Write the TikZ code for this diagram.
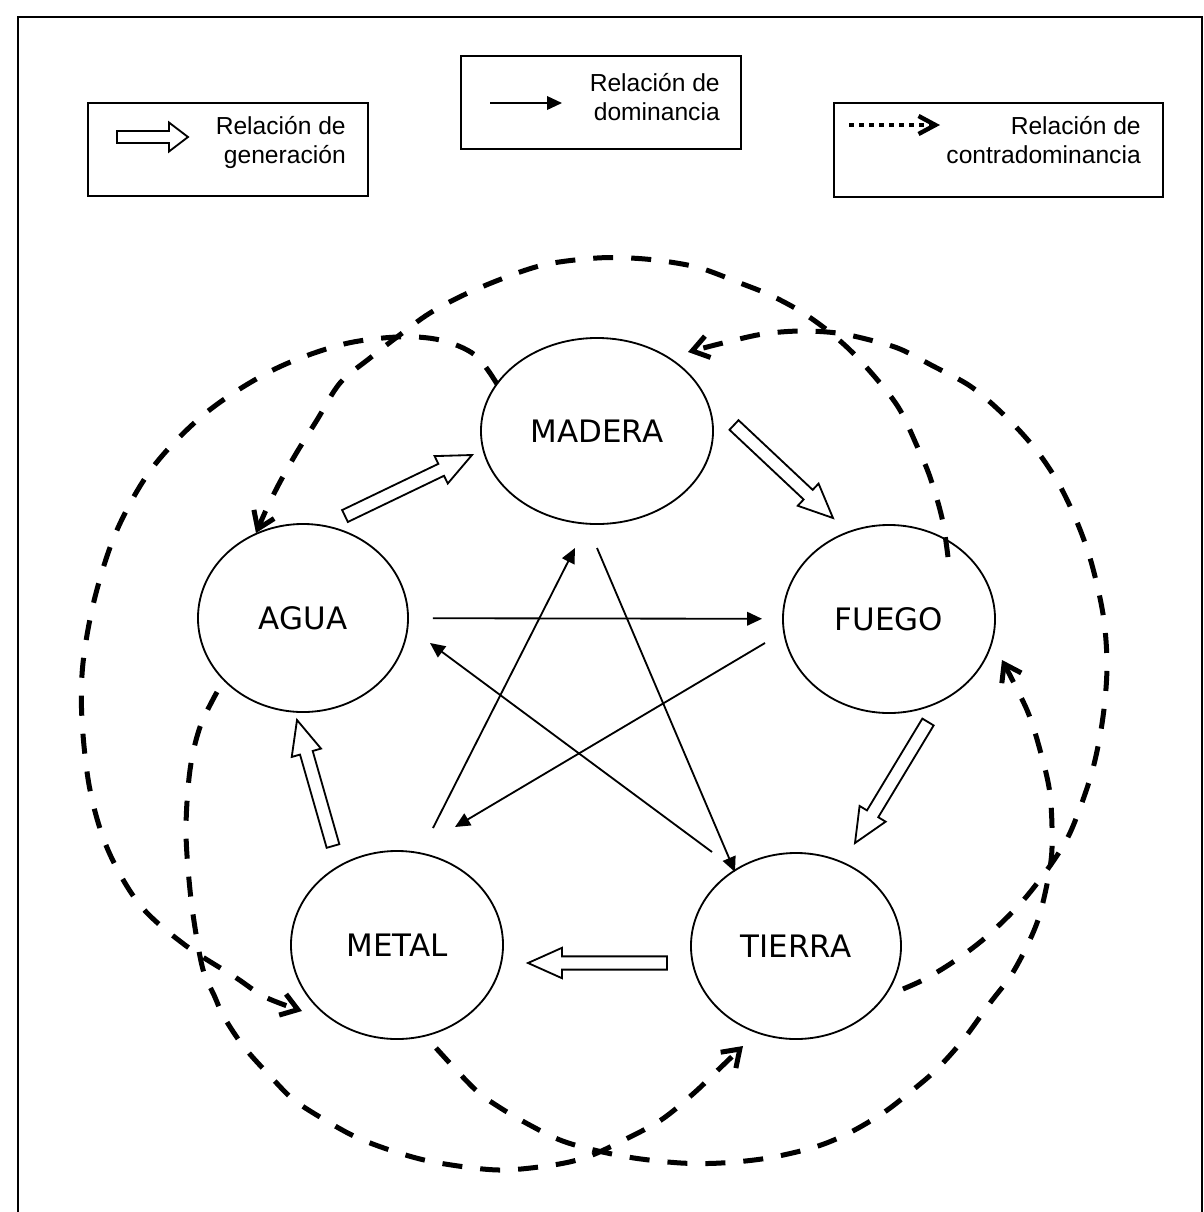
\documentclass[tikz,border=0pt]{standalone}
\usepackage{fontspec}
\setmainfont{Liberation Sans}
\newfontfamily\elementfont{DejaVu Sans}
\usetikzlibrary{arrows.meta,shapes.geometric,calc}

\tikzset{
  frame/.style={line width=1.3pt},
  element/.style={ellipse, draw, line width=1.3pt, inner sep=0pt,
    font=\elementfont\fontsize{22}{26}\selectfont},
  legendbox/.style={draw, line width=1.3pt, inner sep=0pt, anchor=north west},
  legendtext/.style={font=\fontsize{17.5}{20.5}\selectfont, align=right,
    inner sep=0pt, anchor=base east},
  dominance/.style={line width=1.3pt, -{Triangle[length=0.375cm, width=0.34cm]}},
  contra/.style={line width=0.125cm, dash pattern=on 0.5cm off 0.45cm,
    -{Straight Barb[length=0.4cm, width=0.55cm]}},
  % hollow block arrow: shaft half width, head half width, head length
  block arrow/.style n args={3}{line width=1.3pt, to path={
      let \p1=(\tikztostart), \p2=(\tikztotarget),
          \n1={atan2(\y2-\y1,\x2-\x1)},
          \n2={veclen(\x2-\x1,\y2-\y1)-#3}
      in ($(\p1)+(\n1+90:#1)$)
      -- ($(\p1)+(\n1:\n2)+(\n1+90:#1)$)
      -- ($(\p1)+(\n1:\n2)+(\n1+90:#2)$)
      -- (\p2)
      -- ($(\p1)+(\n1:\n2)+(\n1-90:#2)$)
      -- ($(\p1)+(\n1:\n2)+(\n1-90:#1)$)
      -- ($(\p1)+(\n1-90:#1)$) -- cycle}},
  generation/.style={block arrow={0.165cm}{0.38cm}{0.85cm}},
}

\begin{document}
\begin{tikzpicture}[x=0.025cm, y=-0.025cm]
\useasboundingbox (0,0) rectangle (1204,1212);
\draw[frame] (18,1212) -- (18,17) -- (1202,17) -- (1202,1212);

% ---------- legend ----------
\node[legendbox, minimum width=7cm, minimum height=2.325cm] (genbox) at (87,102) {};
\coordinate (genA) at (117,137);
\coordinate (genB) at (188,137);
\draw[block arrow={0.15cm}{0.3625cm}{0.475cm}] (genA) to (genB);
\node[legendtext] (gentext) at (346,163) {Relación de\\generación};

\node[legendbox, minimum width=7cm, minimum height=2.325cm] (dombox) at (460,55) {};
\coordinate (domA) at (490,103);
\coordinate (domB) at (562,103);
\draw[dominance] (domA) -- (domB);
\node[legendtext] (domtext) at (720,120) {Relación de\\dominancia};

\node[legendbox, minimum width=8.225cm, minimum height=2.35cm] (conbox) at (833,102) {};
\coordinate (conA) at (849,125);
\coordinate (conB) at (940,125);
\draw[line width=0.11cm, dash pattern=on 0.125cm off 0.125cm,
  -{Straight Barb[length=0.42cm, width=0.45cm]}] (conA) -- (conB);
\node[legendtext] (context) at (1141,163) {Relación de\\contradominancia};

% ---------- the five elements ----------
\node[element, minimum width=5.8cm,  minimum height=4.65cm] (madera) at (597,431) {MADERA};
\node[element, minimum width=5.25cm, minimum height=4.7cm]  (agua)   at (303,618) {AGUA};
\node[element, minimum width=5.3cm,  minimum height=4.7cm]  (fuego)  at (889,619) {FUEGO};
\node[element, minimum width=5.3cm,  minimum height=4.7cm]  (metal)  at (397,945) {METAL};
\node[element, minimum width=5.25cm, minimum height=4.65cm] (tierra) at (796,946) {TIERRA};

% ---------- generation cycle ----------
\coordinate (g1s) at ($(agua.center)+(42,-102)$);
\coordinate (g1e) at ($(madera.center)+(-125,24)$);
\coordinate (g2s) at ($(madera.center)+(137,-6)$);
\coordinate (g2e) at ($(fuego.center)+(-56,-101)$);
\coordinate (g3s) at ($(fuego.center)+(39,103)$);
\coordinate (g3e) at ($(tierra.center)+(59,-103)$);
\coordinate (g4s) at ($(tierra.center)+(-129,17)$);
\coordinate (g4e) at ($(metal.center)+(131,18)$);
\coordinate (g5s) at ($(metal.center)+(-64,-99)$);
\coordinate (g5e) at ($(agua.center)+(-6,102)$);
\draw[generation] (g1s) to (g1e);
\draw[generation] (g2s) to (g2e);
\draw[generation] (g3s) to (g3e);
\draw[generation] (g4s) to (g4e);
\draw[generation] (g5s) to (g5e);

% ---------- dominance star ----------
\draw[dominance, shorten <=0.6cm, shorten >=0.5cm] (agua) -- (fuego);
\coordinate (d2s) at ($(madera.center)+(0,117)$);
\coordinate (d2e) at ($(tierra.center)+(-61,-74)$);
\coordinate (d3s) at ($(fuego.center)+(-124,24)$);
\coordinate (d3e) at ($(metal.center)+(58,-118)$);
\coordinate (d4s) at ($(tierra.center)+(-84,-94)$);
\coordinate (d4e) at ($(agua.center)+(127,25)$);
\coordinate (d5s) at ($(metal.center)+(36,-117)$);
\coordinate (d5e) at ($(madera.center)+(-22,117)$);
\draw[dominance] (d2s) -- (d2e);
\draw[dominance] (d3s) -- (d3e);
\draw[dominance] (d4s) -- (d4e);
\draw[dominance] (d5s) -- (d5e);

% ---------- counter-dominance curves ----------
\coordinate (c1s) at ($(madera.center)+(-100,-47)$);
\coordinate (c1e) at ($(metal.center)+(-95,66)$);
\draw[contra] plot[smooth, tension=0.55] coordinates {(c1s) (475,355) (440,340) (397,337)
  (340,345) (273,370) (207,412) (153,467) (117,530) (95,597) (83,663) (82,720) (90,790)
  (108,850) (140,905) (185,945) (235,977) (265,997) (c1e)};

\coordinate (c2s) at ($(fuego.center)+(59,-62)$);
\coordinate (c2e) at ($(agua.center)+(-47,-85)$);
\draw[contra] plot[smooth, tension=0.55] coordinates {(c2s) (942,518) (930,477) (917,446)
  (900,410) (880,383) (853,353) (827,330) (800,311) (770,295) (740,283) (700,268)
  (663,261) (630,258) (597,258) (553,263) (520,272) (470,292) (430,313) (397,337)
  (370,358) (340,383) (317,420) (297,452) (280,482) (267,508) (c2e)};

\coordinate (c3s) at ($(tierra.center)+(107,43)$);
\coordinate (c3e) at ($(madera.center)+(91,-79)$);
\draw[contra] plot[smooth, tension=0.55] coordinates {(c3s) (925,979) (953,962) (985,938)
  (1020,904) (1047,870) (1067,839) (1080,808) (1092,772) (1100,736) (1105,700)
  (1107,665) (1105,629) (1100,598) (1090,558) (1077,522) (1060,486) (1040,455)
  (1017,428) (990,402) (967,384) (933,366) (900,349) (870,340) (837,333) (800,331)
  (763,334) (727,342) (c3e)};

\coordinate (c4s) at ($(metal.center)+(39,103)$);
\coordinate (c4e) at ($(fuego.center)+(113,41)$);
\draw[contra] plot[smooth, tension=0.55] coordinates {(c4s) (459,1073) (479,1093)
  (499,1107) (526,1123) (560,1140) (594,1150) (634,1158) (681,1163) (721,1163)
  (768,1158) (815,1147) (849,1133) (883,1113) (909,1093) (936,1070) (963,1040)
  (990,1003) (1010,977) (1025,950) (1038,920) (1047,884) (1052,848) (1050,794)
  (1040,750) (1027,710) (c4e)};

\coordinate (c5s) at ($(agua.center)+(-86,74)$);
\coordinate (c5e) at ($(tierra.center)+(-53,100)$);
\draw[contra] plot[smooth, tension=0.55] coordinates {(c5s) (200,727) (190,770) (186,830)
  (190,890) (197,940) (204,973) (214,995) (224,1017) (244,1047) (271,1077) (294,1100)
  (325,1120) (358,1138) (399,1153) (439,1163) (499,1170) (553,1165) (587,1157)
  (620,1142) (661,1120) (694,1093) (718,1070) (c5e)};
\end{tikzpicture}
\end{document}
